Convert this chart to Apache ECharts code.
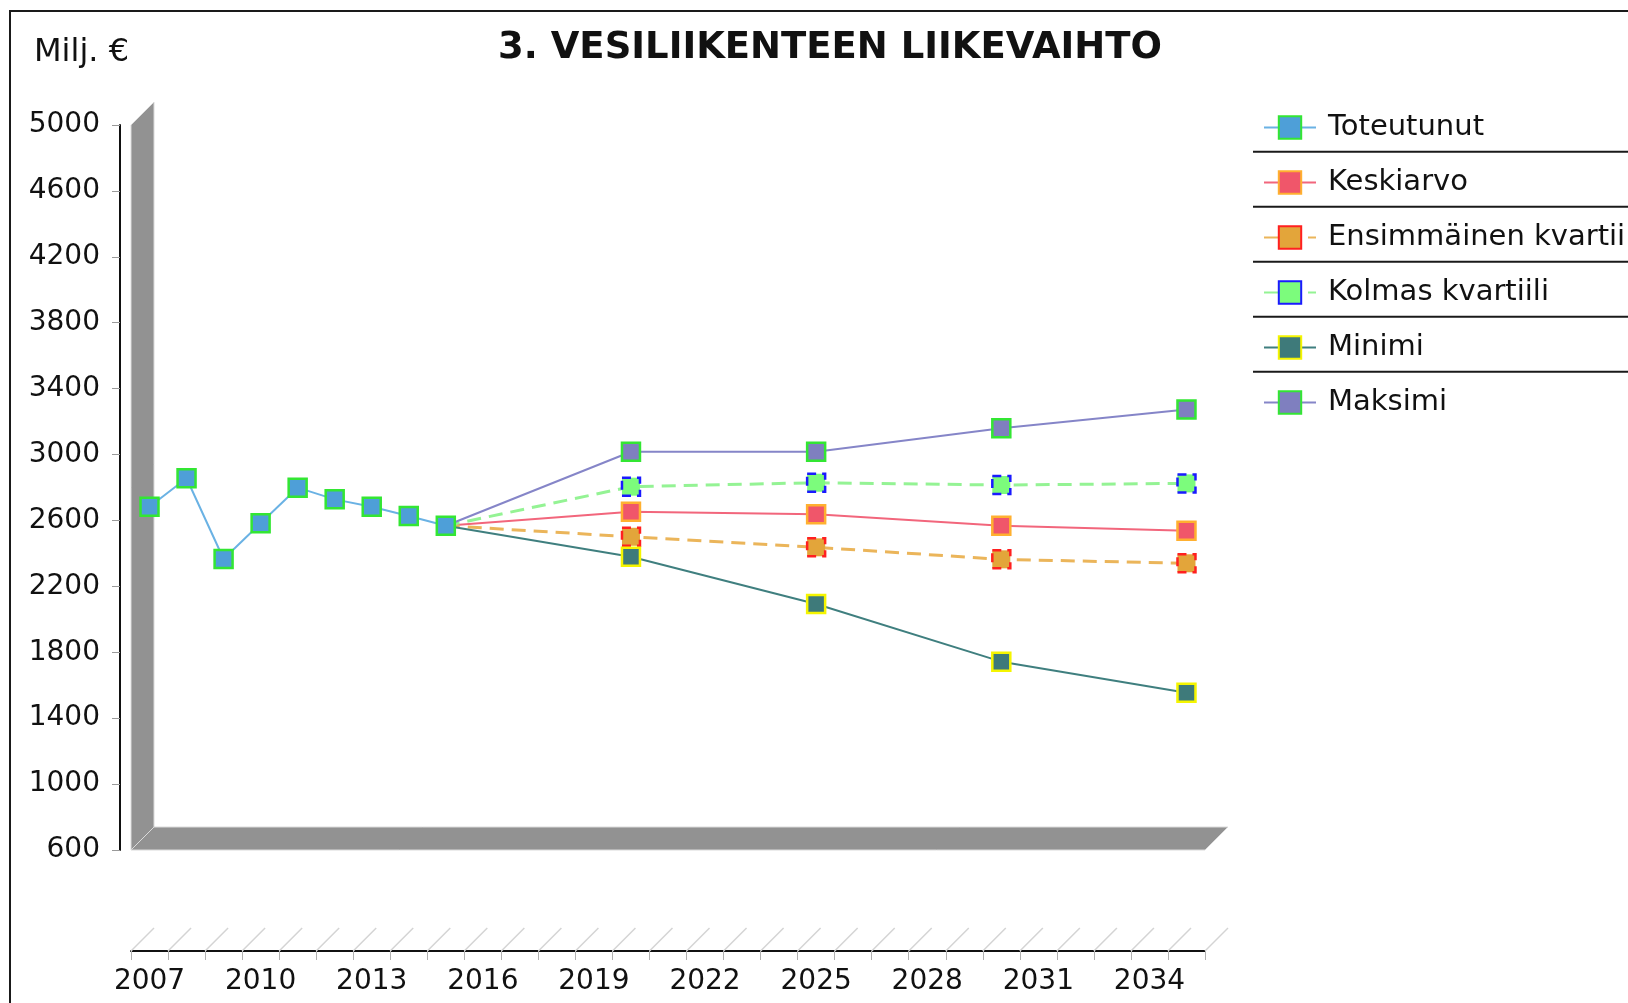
<!DOCTYPE html>
<html>
<head>
<meta charset="utf-8">
<script src="https://cdn.jsdelivr.net/npm/echarts@6/dist/echarts.min.js"></script>
<style>
html,body{margin:0;padding:0;background:#fff;}
#chart{width:1628px;height:1003px;}
</style>
</head>
<body>
<div id="chart"></div>
<script>
var years = ['2007','2008','2009','2010','2011','2012','2013','2014','2015','2016',
             '2017','2018','2019','2020','2021','2022','2023','2024','2025','2026',
             '2027','2028','2029','2030','2031','2032','2033','2034','2035'];

var actualYears = ['2007','2008','2009','2010','2011','2012','2013','2014','2015'];
var toteutunut = [2683, 2856, 2366, 2583, 2799, 2728, 2683, 2627, 2568];

var forecastYears = ['2015','2020','2025','2030','2035'];
var keskiarvo = [2568, 2653, 2637, 2568, 2538];
var kvartiili1 = [2568, 2501, 2437, 2364, 2340];
var kvartiili3 = [2568, 2805, 2829, 2815, 2825];
var minimi = [2568, 2380, 2093, 1743, 1555];
var maksimi = [2568, 3017, 3017, 3159, 3274];

var font = 'DejaVu Sans';

function makeSeries(name, xs, ys, lineColor, fill, border, dashed, z, hideFirst) {
    return {
        name: name,
        type: 'line',
        z: z,
        symbol: 'rect',
        symbolSize: 18,
        data: xs.map(function (x, i) {
            if (hideFirst && i === 0) {
                return { value: [x, ys[i]], symbol: 'none' };
            }
            return [x, ys[i]];
        }),
        lineStyle: {
            color: lineColor,
            width: dashed ? 3 : 2,
            type: dashed ? [14, 8] : 'solid'
        },
        itemStyle: {
            color: fill,
            borderColor: border,
            borderWidth: 2.5,
            borderType: dashed ? [9, 6] : 'solid'
        },
        emphasis: { disabled: true }
    };
}

var option = {
    animation: false,
    backgroundColor: '#fff',
    title: [
        {
            text: '3. VESILIIKENTEEN LIIKEVAIHTO',
            left: 830,
            top: 30,
            padding: 0,
            textAlign: 'center',
            textStyle: { fontFamily: font, fontWeight: 'bold', fontSize: 37, color: '#111' }
        },
        {
            text: 'Milj. €',
            left: 34,
            top: 37,
            padding: 0,
            textStyle: { fontFamily: font, fontWeight: 'normal', fontSize: 32, color: '#111' }
        }
    ],
    legend: {
        orient: 'vertical',
        left: 1263,
        top: 113,
        padding: 0,
        itemWidth: 52,
        itemHeight: 28,
        itemGap: 26,
        textStyle: { fontFamily: font, fontSize: 29, color: '#111', lineHeight: 28, padding: [0, 0, 0, 7] },
        data: ['Toteutunut', 'Keskiarvo', 'Ensimmäinen kvartiili', 'Kolmas kvartiili', 'Minimi', 'Maksimi'],
        selectedMode: false
    },
    grid: { left: 131, right: 423, top: 125, bottom: 153 },
    xAxis: {
        type: 'category',
        data: years,
        boundaryGap: true,
        offset: 101,
        axisLine: { lineStyle: { color: '#111', width: 2 } },
        axisTick: { show: true, interval: 0, length: 9, lineStyle: { color: '#b0b0b0' } },
        axisLabel: { interval: 2, margin: 17, fontFamily: font, fontSize: 28, color: '#111' },
        splitLine: { show: false }
    },
    yAxis: {
        type: 'value',
        min: 600,
        max: 5000,
        interval: 400,
        offset: 11,
        axisLine: { show: true, lineStyle: { color: '#111', width: 2 } },
        axisTick: { show: true, length: 8, lineStyle: { color: '#999' } },
        axisLabel: {
            margin: 20, fontFamily: font, fontSize: 28, color: '#111',
            padding: [6, 0, 0, 0],
            formatter: function (v) { return String(v); }
        },
        splitLine: { show: false }
    },
    series: [
        makeSeries('Toteutunut', actualYears, toteutunut, '#6ab2e4', '#4e9fd8', '#33e633', false, 5, false),
        makeSeries('Keskiarvo', forecastYears, keskiarvo, '#f2667c', '#f0566a', '#ffb030', false, 3, true),
        makeSeries('Ensimmäinen kvartiili', forecastYears, kvartiili1, '#ebb55a', '#e3a53a', '#ff2020', true, 3, true),
        makeSeries('Kolmas kvartiili', forecastYears, kvartiili3, '#94f394', '#7cfc7c', '#1a1aff', true, 3, true),
        makeSeries('Minimi', forecastYears, minimi, '#3f7f7f', '#3e7a7a', '#f5f500', false, 3, true),
        makeSeries('Maksimi', forecastYears, maksimi, '#8585c8', '#7f7fbf', '#33e633', false, 3, true)
    ]
};

var chart = echarts.init(document.getElementById('chart'));
chart.setOption(option);

// 3D wall, floor and axis hatching, placed from the chart's own scales
var d = 23;
var yTop = chart.convertToPixel({ yAxisIndex: 0 }, 5000);
var yBot = chart.convertToPixel({ yAxisIndex: 0 }, 600);
var x0 = chart.convertToPixel({ xAxisIndex: 0 }, years[0]);
var x1 = chart.convertToPixel({ xAxisIndex: 0 }, years[years.length - 1]);
var bw = (x1 - x0) / (years.length - 1);
var xL = x0 - bw / 2;
var xR = x1 + bw / 2;
var axisY = yBot + 101;

var elements = [
    {
        type: 'rect', z: 0, silent: true,
        shape: { x: 10, y: 11, width: 1700, height: 1100 },
        style: { fill: null, stroke: '#1a1a1a', lineWidth: 2 }
    },
    {
        type: 'polygon', z: 1, silent: true,
        shape: { points: [[xL, yTop], [xL + d, yTop - d], [xL + d, yBot - d], [xL, yBot]] },
        style: { fill: '#929292', stroke: '#dadada', lineWidth: 1 }
    },
    {
        type: 'polygon', z: 1, silent: true,
        shape: { points: [[xL, yBot], [xL + d, yBot - d], [xR + d, yBot - d], [xR, yBot]] },
        style: { fill: '#929292', stroke: '#dadada', lineWidth: 1 }
    }
];

for (var i = 0; i <= years.length; i++) {
    var hx = xL + i * bw;
    elements.push({
        type: 'line', z: 1, silent: true,
        shape: { x1: hx, y1: axisY, x2: hx + d, y2: axisY - d },
        style: { stroke: '#d4d4d4', lineWidth: 1.5 }
    });
}

// legend separators
for (var k = 1; k < 6; k++) {
    var sy = 96.7 + k * 55;
    elements.push({
        type: 'line', z: 1, silent: true,
        shape: { x1: 1253, y1: sy, x2: 1640, y2: sy },
        style: { stroke: '#1a1a1a', lineWidth: 2 }
    });
}

chart.setOption({ graphic: { elements: elements } });
</script>
</body>
</html>
